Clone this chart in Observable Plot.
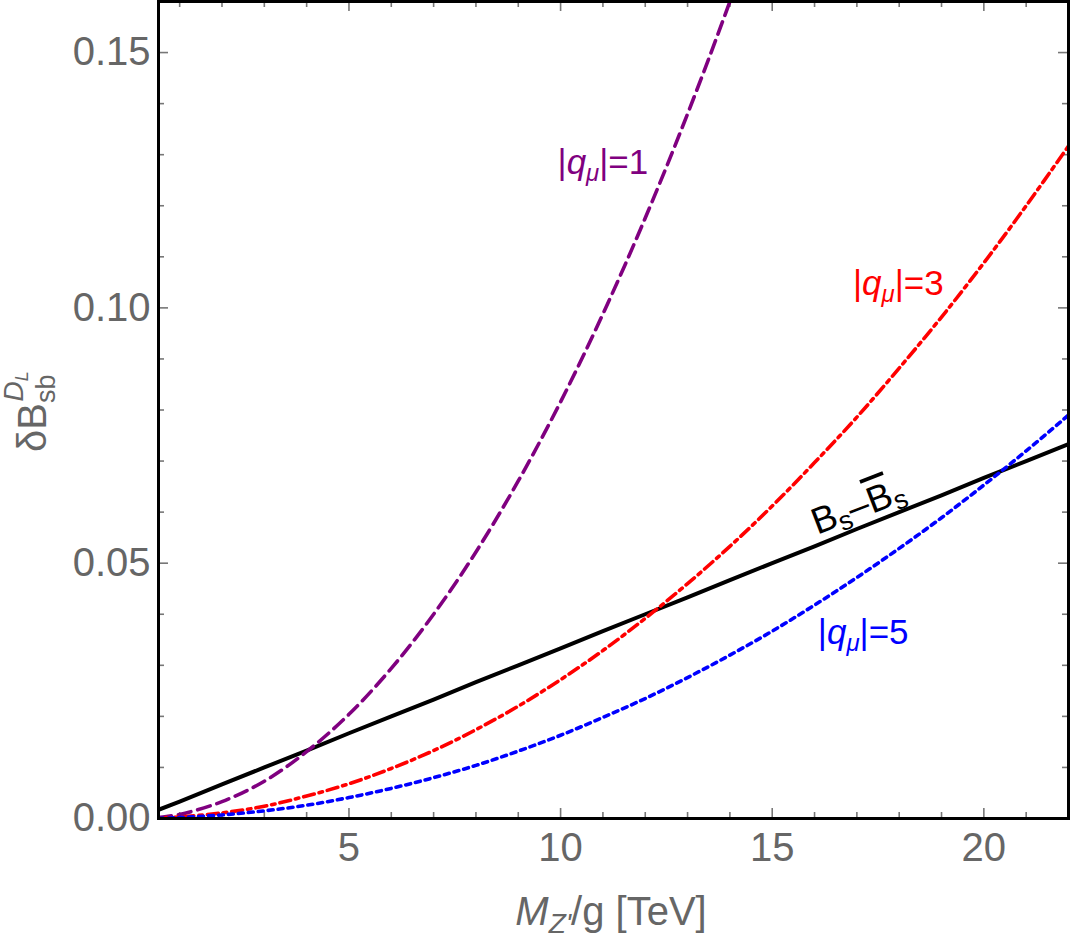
<!DOCTYPE html>
<html>
<head>
<meta charset="utf-8">
<script src="https://cdn.jsdelivr.net/npm/d3@7"></script>
<script src="https://cdn.jsdelivr.net/npm/@observablehq/plot@0.6"></script>
<style>
  html, body { margin: 0; padding: 0; background: #fff; }
  #chart svg { display: block; }
</style>
</head>
<body>
<div id="chart"></div>
<script>
// M_Z'/g grid in TeV
const xs = [0.5, 1, 2, 3, 4, 5, 6, 7, 8, 9, 10, 11, 12, 13, 14, 15, 16, 17, 18, 19, 20, 21, 22];

// δB_sb^{D_L} for each muon charge (|q_μ| = 1 stops just above the frame)
const q1Y = [0.0002, 0.0008, 0.0033, 0.0073, 0.0131, 0.0204, 0.0294, 0.0400, 0.0522, 0.0661, 0.0816, 0.0988, 0.1176, 0.1380, 0.1600, 0.1837];
const q3Y = [0.0001, 0.0003, 0.0011, 0.0024, 0.0044, 0.0068, 0.0098, 0.0133, 0.0174, 0.0220, 0.0272, 0.0329, 0.0392, 0.0460, 0.0533, 0.0612, 0.0697, 0.0786, 0.0882, 0.0982, 0.1088, 0.1200, 0.1317];
const q5Y = [0.00004, 0.0002, 0.0007, 0.0015, 0.0026, 0.0041, 0.0059, 0.0080, 0.0104, 0.0132, 0.0163, 0.0198, 0.0235, 0.0276, 0.0320, 0.0367, 0.0418, 0.0472, 0.0529, 0.0589, 0.0653, 0.0720, 0.0790];
// B_s – B̄_s mixing bound
const mixY = [0.0017, 0.0033, 0.0067, 0.0100, 0.0133, 0.0167, 0.0200, 0.0233, 0.0267, 0.0300, 0.0333, 0.0367, 0.0400, 0.0433, 0.0467, 0.0500, 0.0533, 0.0567, 0.0600, 0.0633, 0.0667, 0.0700, 0.0733];

// axis ticks
const xMajor = [5, 10, 15, 20];
const xMinor = [1, 2, 3, 4, 6, 7, 8, 9, 11, 12, 13, 14, 16, 17, 18, 19, 21, 22];
const yMajor = [0, 0.05, 0.10, 0.15];
const yMinor = [0.01, 0.02, 0.03, 0.04, 0.06, 0.07, 0.08, 0.09, 0.11, 0.12, 0.13, 0.14];

// curve labels
const labelKeys = ["q1", "q3", "q5", "mix"];
const labelX = [11.0, 17.98, 17.15, 17.04];
const labelY = [0.1285, 0.1048, 0.0364, 0.0610];
const labelColors = ["#800080", "#ff0000", "#0000ff", "#000000"];
const labelRotate = [0, 0, 0, -21];

const toRows = (ys) => ys.map((y, i) => ({x: xs[i], y}));
const labels = labelKeys.map((k, i) => ({key: k, x: labelX[i], y: labelY[i], color: labelColors[i], rot: labelRotate[i]}));

const W = 1071, H = 940;
const mL = 158, mR = 3, mT = 1, mB = 122;
const innerW = W - mL - mR, innerH = H - mT - mB;
const tickColor = "#777";
const majorLen = 10, minorLen = 6;

const chart = Plot.plot({
  width: W,
  height: H,
  marginLeft: mL,
  marginRight: mR,
  marginTop: mT,
  marginBottom: mB,
  style: {fontFamily: "'Liberation Sans', Arial, sans-serif", fontSize: "40px", background: "#fff", overflow: "visible"},
  x: {domain: [0.5, 22]},
  y: {domain: [0, 0.16]},
  marks: [
    Plot.axisX({ticks: xMajor, tickSize: 0, tickPadding: 14, fill: "#666", fontSize: 40, label: null}),
    Plot.axisY({ticks: yMajor, tickSize: 0, tickPadding: 8, fill: "#666", fontSize: 40, tickFormat: d3.format(".2f"), label: null}),
    // inward ticks on all four sides
    Plot.tickX(xMajor, {x: d => d, insetTop: innerH - majorLen, stroke: tickColor, strokeWidth: 1.6}),
    Plot.tickX(xMinor, {x: d => d, insetTop: innerH - minorLen, stroke: tickColor, strokeWidth: 1.6}),
    Plot.tickX(xMajor, {x: d => d, insetBottom: innerH - majorLen, stroke: tickColor, strokeWidth: 1.6}),
    Plot.tickX(xMinor, {x: d => d, insetBottom: innerH - minorLen, stroke: tickColor, strokeWidth: 1.6}),
    Plot.tickY(yMajor, {y: d => d, insetRight: innerW - majorLen, stroke: tickColor, strokeWidth: 1.6}),
    Plot.tickY(yMinor, {y: d => d, insetRight: innerW - minorLen, stroke: tickColor, strokeWidth: 1.6}),
    Plot.tickY(yMajor, {y: d => d, insetLeft: innerW - majorLen, stroke: tickColor, strokeWidth: 1.6}),
    Plot.tickY(yMinor, {y: d => d, insetLeft: innerW - minorLen, stroke: tickColor, strokeWidth: 1.6}),
    // curves
    Plot.line(toRows(mixY), {x: "x", y: "y", stroke: "#000", strokeWidth: 4, clip: true}),
    Plot.line(toRows(q1Y), {x: "x", y: "y", stroke: "#800080", strokeWidth: 3.6, strokeDasharray: "13,7", curve: "catmull-rom", clip: true}),
    Plot.line(toRows(q3Y), {x: "x", y: "y", stroke: "#ff0000", strokeWidth: 3.6, strokeDasharray: "11,5,3.5,5", curve: "catmull-rom", clip: true}),
    Plot.line(toRows(q5Y), {x: "x", y: "y", stroke: "#0000ff", strokeWidth: 3.6, strokeDasharray: "5,5", curve: "catmull-rom", clip: true}),
    Plot.text(labels, {x: "x", y: "y", text: "key", fill: "color", rotate: "rot", fontSize: 35, textAnchor: "middle", lineAnchor: "middle"}),
    Plot.frame({stroke: "#000", strokeWidth: 3})
  ]
});

// rich text for the curve labels
const parts = {
  q1: [{t: "|"}, {t: "q", i: true}, {t: "μ", i: true, s: 24, dy: 7}, {t: "|=1", dy: -7}],
  q3: [{t: "|"}, {t: "q", i: true}, {t: "μ", i: true, s: 24, dy: 7}, {t: "|=3", dy: -7}],
  q5: [{t: "|"}, {t: "q", i: true}, {t: "μ", i: true, s: 24, dy: 7}, {t: "|=5", dy: -7}],
  mix: [{t: "B", s: 37}, {t: "s", s: 27, dy: 6}, {t: "–", s: 37, dy: -6}, {t: "B", s: 37, o: true}, {t: "s", s: 27, dy: 6}]
};
function fillSpans(textSel, list) {
  textSel.text(null);
  for (const p of list) {
    const ts = textSel.append("tspan").text(p.t);
    if (p.i) ts.attr("font-style", "italic");
    if (p.s) ts.attr("font-size", p.s);
    if (p.dy) ts.attr("dy", p.dy);
    if (p.dx) ts.attr("dx", p.dx);
    if (p.o) ts.style("text-decoration", "overline");
  }
}
const svg = d3.select(chart);
svg.selectAll("g[aria-label='text'] text").each(function () {
  const sel = d3.select(this);
  const k = sel.text();
  if (parts[k]) fillSpans(sel, parts[k]);
});

// axis titles
const xTitle = svg.append("text")
  .attr("x", 611).attr("y", 925)
  .attr("text-anchor", "middle")
  .attr("fill", "#666")
  .attr("font-size", 40);
fillSpans(xTitle, [{t: "M", i: true}, {t: "Z'", i: true, s: 28, dy: 8}, {t: "/g [TeV]", s: 40, dy: -8}]);

const yTitle = svg.append("text")
  .attr("transform", "translate(46,411) rotate(-90)")
  .attr("x", -41).attr("y", 0)
  .attr("text-anchor", "start")
  .attr("fill", "#666")
  .attr("font-size", 40);
fillSpans(yTitle, [{t: "δB"}, {t: "sb", s: 27, dy: 9}, {t: "D", i: true, s: 28, dx: -27, dy: -32}, {t: "L", i: true, s: 18, dy: 5}]);

document.getElementById("chart").appendChild(chart);
</script>
</body>
</html>
